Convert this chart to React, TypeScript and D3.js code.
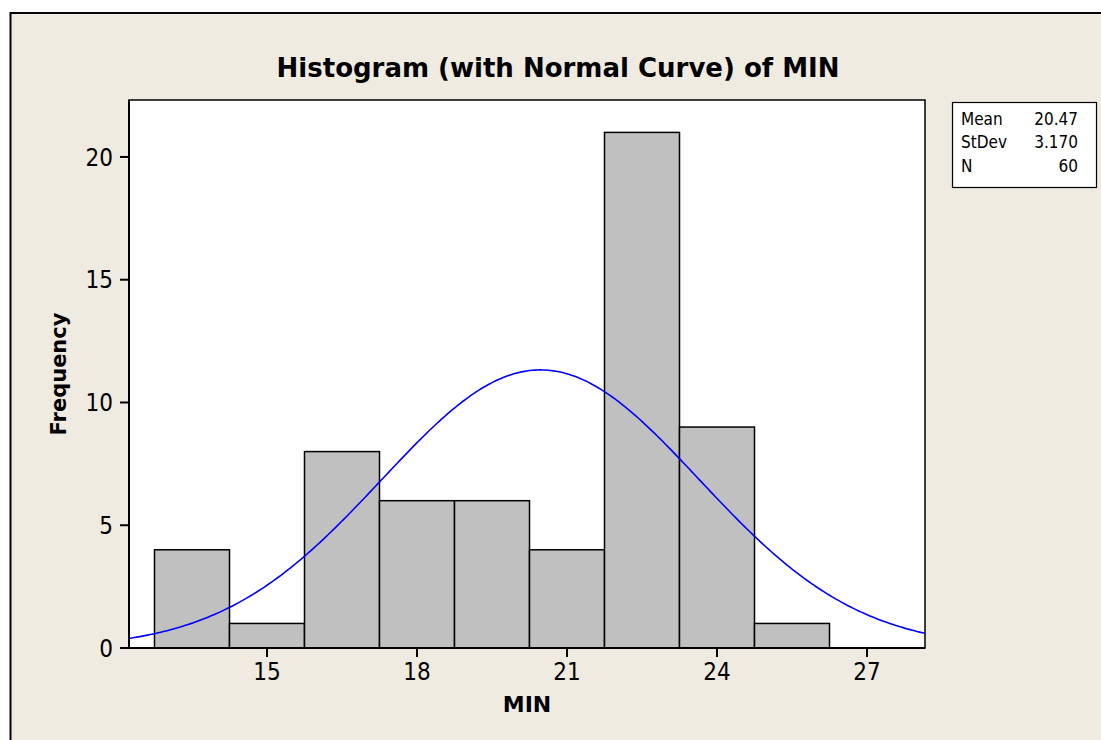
import { useEffect, useRef } from 'react';
import * as d3 from 'd3';

// bin edges of the histogram (Minitab bins, width 1.5)
const binEdges = [12.75, 14.25, 15.75, 17.25, 18.75, 20.25, 21.75, 23.25, 24.75, 26.25];
const binCounts = [4, 1, 8, 6, 6, 4, 21, 9, 1];
const xTicks = [15, 18, 21, 24, 27];
const yTicks = [0, 5, 10, 15, 20];
const statLabels = ['Mean', 'StDev', 'N'];
const statValues = ['20.47', '3.170', '60'];
const mean = 20.47;
const stdev = 3.17;
const n = 60;

const FONT = '"DejaVu Sans Condensed", "DejaVu Sans", sans-serif';
const BOLD_FONT = '"DejaVu Sans", sans-serif';

export default function App() {
    const svgRef = useRef<SVGSVGElement>(null);
    const width = 1101;
    const height = 740;
    const plot = { left: 129, right: 925, top: 100, bottom: 648 };

    useEffect(() => {
        if (!svgRef.current) return;
        const svg = d3.select(svgRef.current);
        svg.selectAll('*').remove();

        svg.append('rect').attr('width', width).attr('height', height).attr('fill', '#ffffff');

        // graph window frame
        svg.append('rect')
            .attr('x', 10.5)
            .attr('y', 13)
            .attr('width', 1110)
            .attr('height', 760)
            .attr('fill', '#efebe1')
            .attr('stroke', '#000')
            .attr('stroke-width', 2);

        const x = d3.scaleLinear().domain([12.24, 28.16]).range([plot.left, plot.right]);
        const y = d3.scaleLinear().domain([0, 22.32]).range([plot.bottom, plot.top]);

        svg.append('rect')
            .attr('x', plot.left)
            .attr('y', plot.top)
            .attr('width', plot.right - plot.left)
            .attr('height', plot.bottom - plot.top)
            .attr('fill', '#fff')
            .attr('stroke', '#000')
            .attr('stroke-width', 1.5);

        const bins = binCounts.map((c, i) => ({ x0: binEdges[i], x1: binEdges[i + 1], count: c }));

        svg.append('g')
            .selectAll('rect')
            .data(bins)
            .enter()
            .append('rect')
            .attr('x', d => x(d.x0))
            .attr('y', d => y(d.count))
            .attr('width', d => x(d.x1) - x(d.x0))
            .attr('height', d => y(0) - y(d.count))
            .attr('fill', '#c0c0c0')
            .attr('stroke', '#000')
            .attr('stroke-width', 1.5);

        // fitted normal curve: n * binwidth * pdf
        const binWidth = binEdges[1] - binEdges[0];
        const [d0, d1] = x.domain();
        const curveXs = d3.range(d0, d1 + 0.001, (d1 - d0) / 300);
        const normal = (v: number) =>
            (n * binWidth) / (stdev * Math.sqrt(2 * Math.PI)) * Math.exp(-0.5 * ((v - mean) / stdev) ** 2);
        const line = d3.line<number>().x(v => x(v)).y(v => y(normal(v)));
        svg.append('path')
            .attr('d', line(curveXs) || '')
            .attr('fill', 'none')
            .attr('stroke', '#0000ff')
            .attr('stroke-width', 1.6);

        // axes lines (redraw over bars)
        svg.append('line')
            .attr('x1', plot.left).attr('x2', plot.right)
            .attr('y1', plot.bottom).attr('y2', plot.bottom)
            .attr('stroke', '#000').attr('stroke-width', 2);
        svg.append('line')
            .attr('x1', plot.left).attr('x2', plot.left)
            .attr('y1', plot.top).attr('y2', plot.bottom)
            .attr('stroke', '#000').attr('stroke-width', 2);

        const yAxis = svg.append('g');
        yTicks.forEach(t => {
            yAxis.append('line')
                .attr('x1', plot.left - 9).attr('x2', plot.left)
                .attr('y1', y(t)).attr('y2', y(t))
                .attr('stroke', '#000').attr('stroke-width', 2);
            yAxis.append('text')
                .attr('x', plot.left - 16)
                .attr('y', y(t))
                .attr('dy', '0.36em')
                .attr('text-anchor', 'end')
                .attr('font-family', FONT)
                .attr('font-size', 24)
                .attr('fill', '#000')
                .text(t);
        });

        const xAxis = svg.append('g');
        xTicks.forEach(t => {
            xAxis.append('line')
                .attr('x1', x(t)).attr('x2', x(t))
                .attr('y1', plot.bottom).attr('y2', plot.bottom + 9)
                .attr('stroke', '#000').attr('stroke-width', 2);
            xAxis.append('text')
                .attr('x', x(t))
                .attr('y', 680)
                .attr('text-anchor', 'middle')
                .attr('font-family', FONT)
                .attr('font-size', 24)
                .attr('fill', '#000')
                .text(t);
        });

        svg.append('text')
            .attr('x', (plot.left + plot.right) / 2)
            .attr('y', 712)
            .attr('text-anchor', 'middle')
            .attr('font-family', BOLD_FONT)
            .attr('font-weight', 'bold')
            .attr('font-size', 22)
            .text('MIN');

        svg.append('text')
            .attr('transform', `translate(66,${(plot.top + plot.bottom) / 2}) rotate(-90)`)
            .attr('text-anchor', 'middle')
            .attr('font-family', BOLD_FONT)
            .attr('font-weight', 'bold')
            .attr('font-size', 21)
            .text('Frequency');

        svg.append('text')
            .attr('x', 558)
            .attr('y', 77)
            .attr('text-anchor', 'middle')
            .attr('font-family', BOLD_FONT)
            .attr('font-weight', 'bold')
            .attr('font-size', 26)
            .text('Histogram (with Normal Curve) of MIN');

        // stats legend box
        const box = svg.append('g');
        box.append('rect')
            .attr('x', 952.5).attr('y', 102.5)
            .attr('width', 144).attr('height', 85)
            .attr('fill', '#fff')
            .attr('stroke', '#000')
            .attr('stroke-width', 1.2);
        statLabels.forEach((lab, i) => {
            const by = 124.5 + i * 23.5;
            box.append('text')
                .attr('x', 961).attr('y', by)
                .attr('font-family', FONT).attr('font-size', 17)
                .text(lab);
            box.append('text')
                .attr('x', 1078).attr('y', by)
                .attr('text-anchor', 'end')
                .attr('font-family', FONT).attr('font-size', 17)
                .text(statValues[i]);
        });
    }, []);

    return (
        <svg
            ref={svgRef}
            width={width}
            height={height}
            viewBox={`0 0 ${width} ${height}`}
            style={{ position: 'absolute', left: 0, top: 0, display: 'block' }}
        />
    );
}
